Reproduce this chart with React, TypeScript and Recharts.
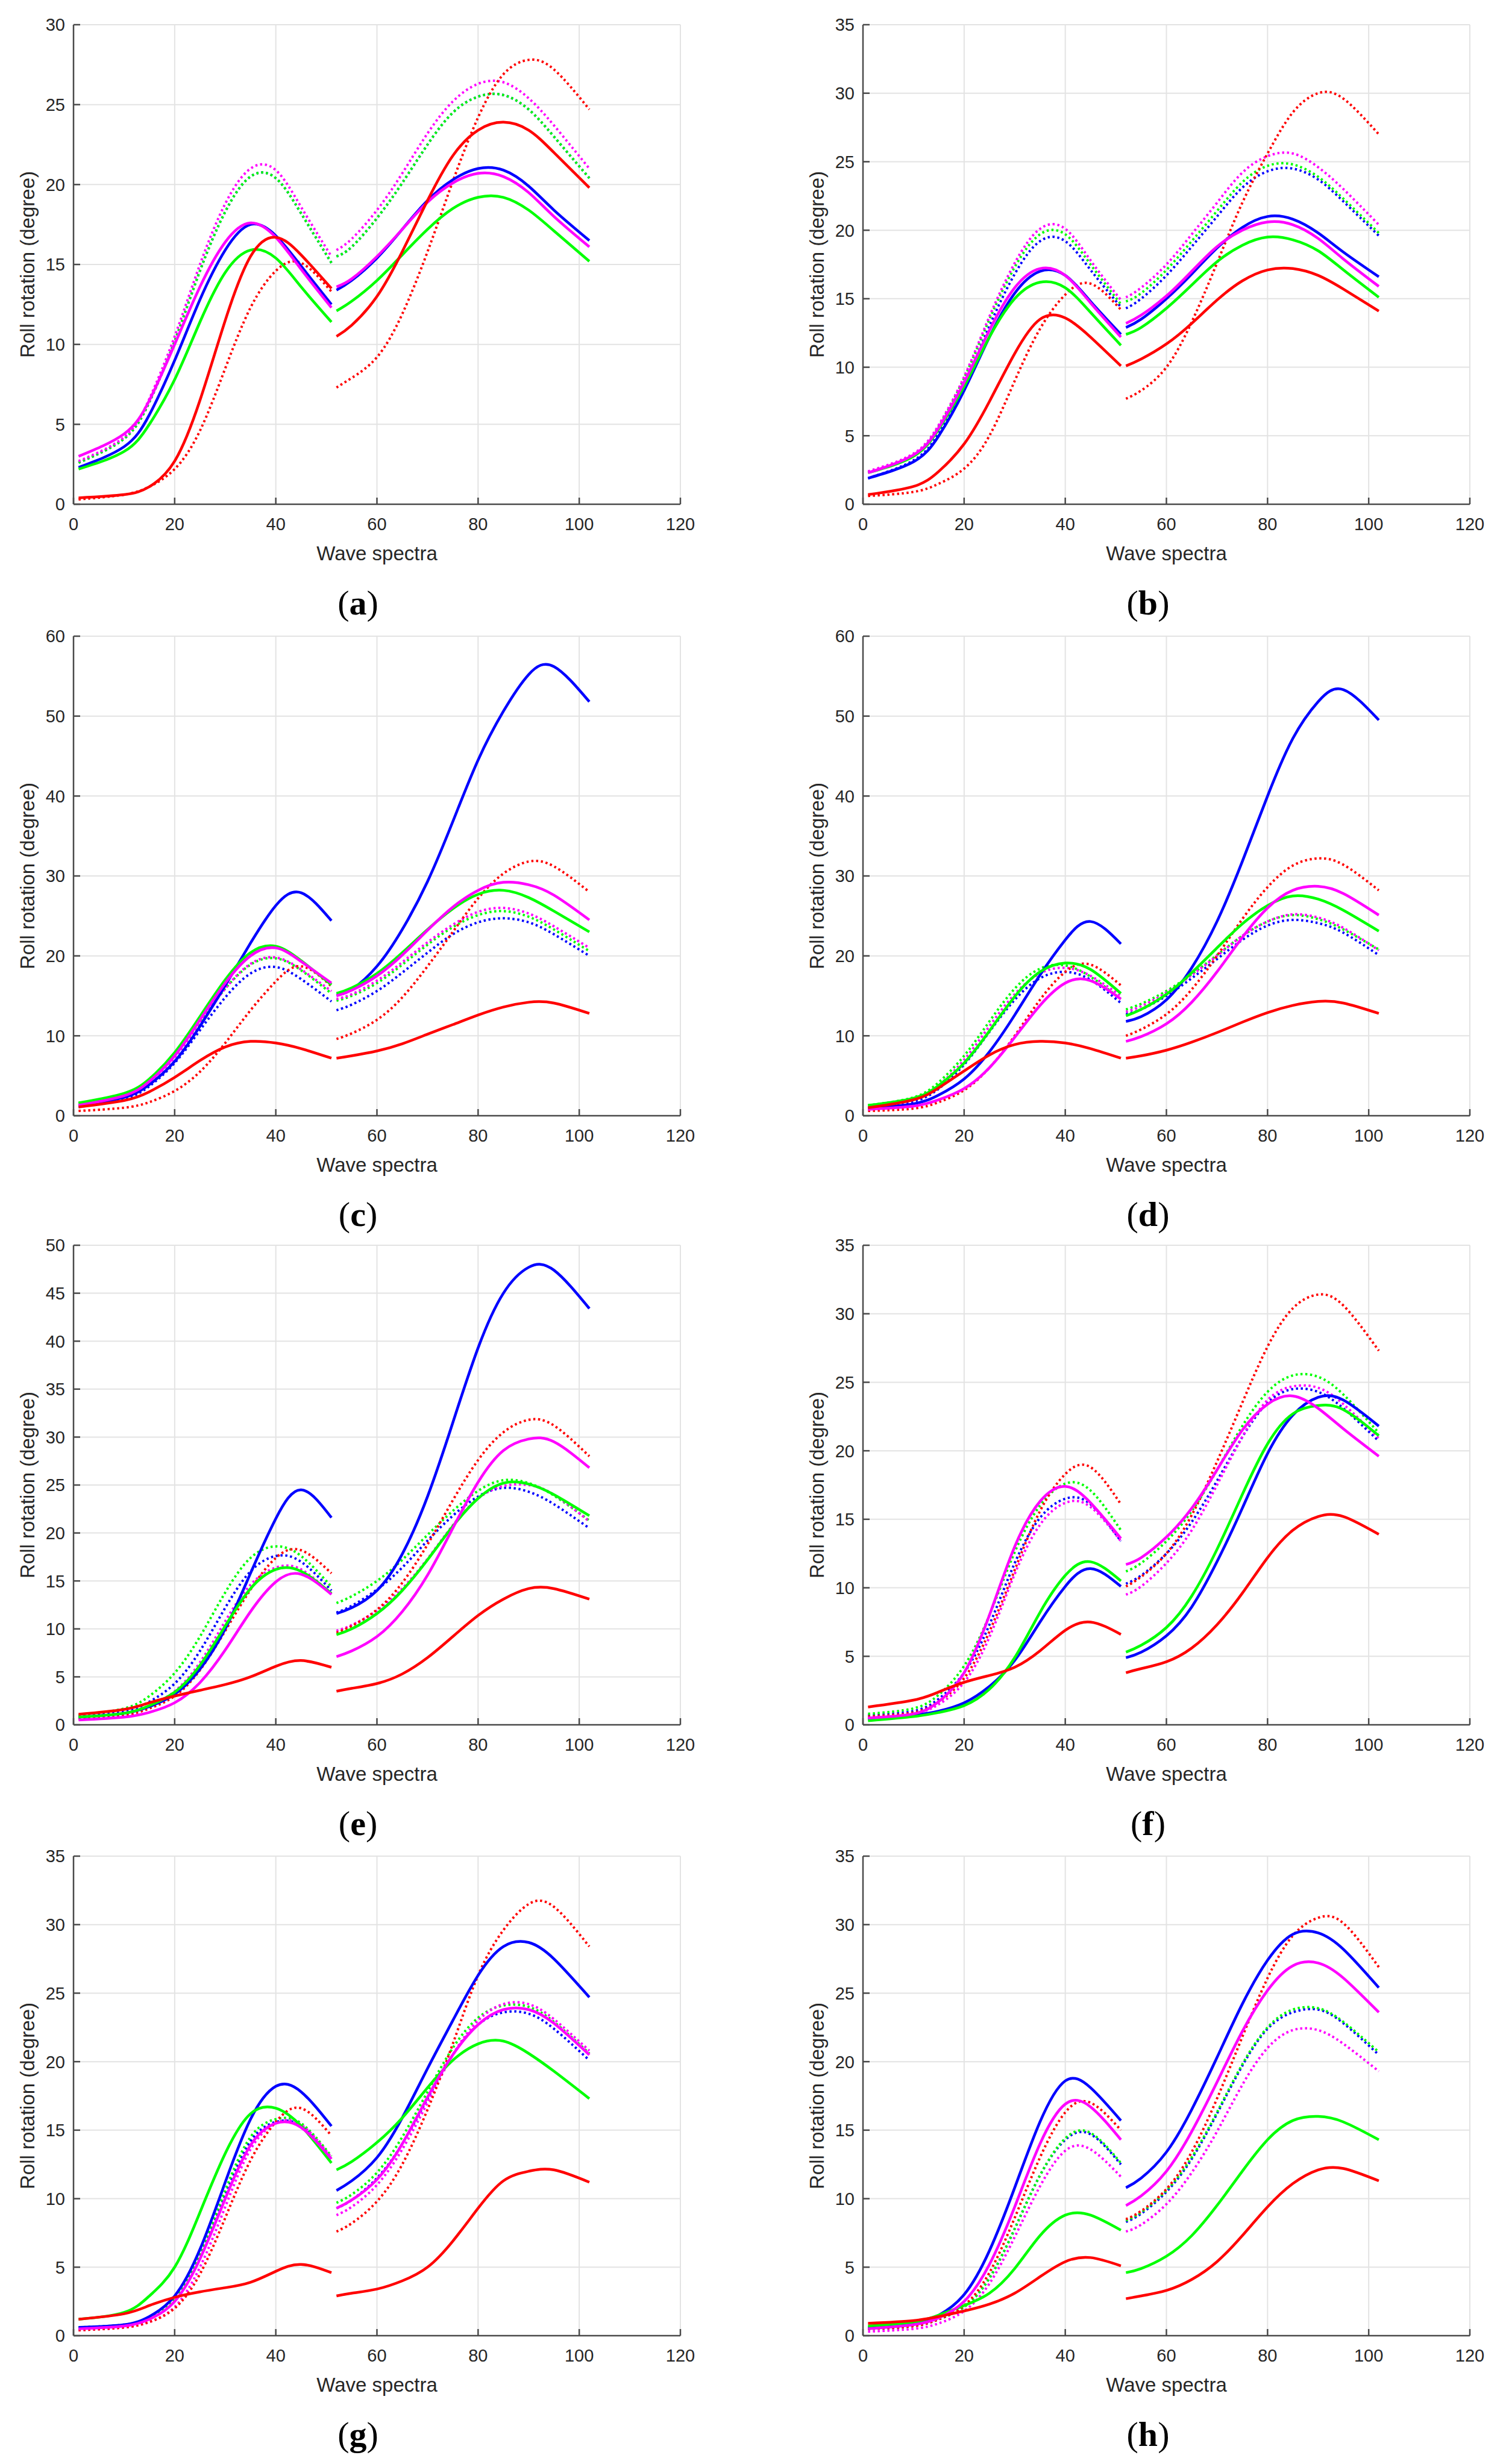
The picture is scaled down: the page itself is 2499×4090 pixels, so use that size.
import React from "react"
import { LineChart, Line, XAxis, YAxis, CartesianGrid } from "recharts"

// sample positions along the wave-spectra index (two groups of spectra)
const X_SEG1 = [1, 10, 15, 20, 25, 30, 35, 40, 45, 51]
const X_SEG2 = [52, 55, 60, 65, 70, 75, 80, 85, 90, 95, 102]
const X_TICKS = [0, 20, 40, 60, 80, 100, 120]

const Y_TICKS_A = [0, 5, 10, 15, 20, 25, 30]
const Y_TICKS_B = [0, 5, 10, 15, 20, 25, 30, 35]
const Y_TICKS_C = [0, 10, 20, 30, 40, 50, 60]
const Y_TICKS_D = [0, 10, 20, 30, 40, 50, 60]
const Y_TICKS_E = [0, 5, 10, 15, 20, 25, 30, 35, 40, 45, 50]
const Y_TICKS_F = [0, 5, 10, 15, 20, 25, 30, 35]
const Y_TICKS_G = [0, 5, 10, 15, 20, 25, 30, 35]
const Y_TICKS_H = [0, 5, 10, 15, 20, 25, 30, 35]

const PANEL_LETTERS = ["a", "b", "c", "d", "e", "f", "g", "h"]

// (a)
const A_BLUE = [2.3, 3.6, 5.6, 9.0, 12.8, 15.9, 17.5, 16.8, 14.9, 12.5, 13.4, 14.0, 15.4, 17.2, 19.0, 20.3, 21.0, 20.9, 19.9, 18.4, 16.5]
const A_MAGENTA = [3.0, 4.4, 6.5, 10.0, 13.6, 16.4, 17.6, 16.7, 14.7, 12.3, 13.6, 14.1, 15.5, 17.2, 18.9, 20.1, 20.7, 20.5, 19.5, 18.0, 16.1]
const A_GREEN = [2.2, 3.3, 5.0, 7.8, 11.4, 14.5, 15.9, 15.4, 13.6, 11.4, 12.1, 12.7, 14.0, 15.6, 17.2, 18.5, 19.2, 19.2, 18.4, 17.1, 15.2]
const A_RED = [0.4, 0.6, 1.1, 2.7, 6.5, 11.5, 15.5, 16.7, 15.6, 13.5, 10.5, 11.2, 13.0, 15.8, 19.0, 21.8, 23.4, 23.9, 23.4, 22.0, 19.8]
const A_BLUE_DOT = [2.6, 4.1, 6.4, 10.2, 14.6, 18.3, 20.5, 20.4, 18.2, 15.1, 15.5, 16.1, 17.9, 20.1, 22.5, 24.5, 25.5, 25.6, 24.7, 23.0, 20.4]
const A_MAGENTA_DOT = [2.7, 4.2, 6.6, 10.5, 15.0, 18.8, 21.0, 20.9, 18.6, 15.5, 15.9, 16.6, 18.4, 20.7, 23.2, 25.2, 26.3, 26.4, 25.4, 23.7, 21.0]
const A_GREEN_DOT = [2.6, 4.1, 6.4, 10.2, 14.6, 18.3, 20.5, 20.4, 18.2, 15.1, 15.5, 16.1, 17.9, 20.1, 22.5, 24.5, 25.5, 25.6, 24.7, 23.0, 20.4]
const A_RED_DOT = [0.3, 0.6, 1.1, 2.2, 4.6, 8.5, 12.3, 14.6, 15.1, 13.3, 7.3, 7.9, 9.2, 11.9, 15.8, 20.2, 24.2, 26.9, 27.8, 27.2, 24.7]

// (b)
const B_BLUE = [1.9, 3.1, 5.0, 8.3, 12.2, 15.4, 17.0, 16.7, 14.8, 12.4, 12.9, 13.5, 15.0, 16.8, 18.7, 20.2, 21.0, 20.8, 19.8, 18.4, 16.6]
const B_MAGENTA = [2.3, 3.6, 5.6, 8.9, 12.7, 15.8, 17.2, 16.7, 14.7, 12.2, 13.2, 13.8, 15.2, 17.0, 18.8, 20.0, 20.6, 20.4, 19.4, 17.9, 15.9]
const B_GREEN = [2.3, 3.5, 5.5, 8.6, 12.2, 15.0, 16.2, 15.8, 14.0, 11.6, 12.4, 12.9, 14.3, 16.0, 17.7, 18.9, 19.5, 19.3, 18.5, 17.1, 15.1]
const B_RED = [0.7, 1.3, 2.4, 4.4, 7.5, 11.0, 13.5, 13.6, 12.2, 10.1, 10.1, 10.6, 11.7, 13.2, 14.9, 16.3, 17.1, 17.2, 16.7, 15.7, 14.1]
const B_BLUE_DOT = [1.9, 3.2, 5.2, 8.7, 13.0, 16.8, 19.2, 19.2, 17.1, 14.4, 14.3, 15.0, 16.7, 18.8, 21.0, 23.1, 24.3, 24.5, 23.7, 22.1, 19.6]
const B_MAGENTA_DOT = [2.4, 3.7, 5.8, 9.3, 13.7, 17.6, 20.1, 20.1, 17.8, 14.9, 15.1, 15.8, 17.5, 19.7, 22.0, 24.2, 25.4, 25.6, 24.6, 23.0, 20.4]
const B_GREEN_DOT = [2.3, 3.6, 5.7, 9.2, 13.5, 17.3, 19.7, 19.7, 17.5, 14.6, 14.8, 15.4, 17.1, 19.2, 21.4, 23.5, 24.7, 24.8, 23.9, 22.3, 19.8]
const B_RED_DOT = [0.6, 0.9, 1.5, 2.6, 5.0, 9.0, 12.8, 15.3, 16.1, 14.2, 7.7, 8.3, 10.0, 13.3, 17.6, 22.0, 25.6, 28.6, 30.0, 29.6, 27.0]

// (c)
const C_BLUE = [1.3, 2.3, 3.9, 6.8, 11.2, 16.3, 21.6, 26.3, 27.9, 24.4, 15.1, 15.8, 18.7, 23.3, 29.3, 36.8, 44.5, 50.6, 55.2, 56.2, 51.8]
const C_MAGENTA = [1.3, 2.5, 4.3, 7.5, 12.0, 16.6, 20.0, 21.0, 19.3, 16.6, 15.0, 15.7, 17.5, 20.1, 23.2, 26.1, 28.2, 29.2, 28.9, 27.6, 24.5]
const C_GREEN = [1.6, 2.8, 4.6, 7.9, 12.4, 17.0, 20.4, 21.2, 19.4, 16.4, 15.3, 16.0, 17.8, 20.4, 23.3, 25.9, 27.7, 28.2, 27.3, 25.6, 23.0]
const C_RED = [1.1, 1.9, 3.0, 4.8, 6.9, 8.6, 9.3, 9.1, 8.4, 7.2, 7.2, 7.5, 8.1, 9.0, 10.2, 11.4, 12.6, 13.6, 14.2, 14.1, 12.8]
const C_BLUE_DOT = [1.1, 2.1, 3.7, 6.6, 10.7, 14.8, 17.8, 18.6, 17.1, 14.3, 13.2, 13.9, 15.6, 17.9, 20.4, 22.7, 24.2, 24.7, 24.2, 22.7, 20.0]
const C_MAGENTA_DOT = [1.4, 2.5, 4.2, 7.3, 11.6, 15.9, 19.0, 19.8, 18.3, 15.6, 14.6, 15.2, 16.9, 19.2, 21.7, 23.9, 25.5, 26.0, 25.3, 23.7, 21.0]
const C_GREEN_DOT = [1.6, 2.7, 4.4, 7.5, 11.8, 15.9, 18.9, 19.7, 18.2, 15.3, 14.4, 15.0, 16.6, 18.9, 21.4, 23.6, 25.1, 25.6, 24.9, 23.3, 20.6]
const C_RED_DOT = [0.6, 1.0, 1.7, 3.1, 5.5, 9.1, 13.2, 16.8, 18.7, 16.2, 9.6, 10.3, 12.0, 14.8, 18.7, 23.0, 27.2, 30.3, 31.8, 31.2, 28.0]

// (d)
const D_BLUE = [0.9, 1.5, 2.6, 4.6, 8.0, 12.6, 17.6, 22.0, 24.3, 21.5, 11.8, 12.4, 14.5, 18.5, 24.3, 31.8, 40.0, 47.2, 51.8, 53.3, 49.5]
const D_MAGENTA = [0.8, 1.2, 2.0, 3.4, 6.0, 9.8, 13.8, 16.6, 16.9, 14.6, 9.3, 9.9, 11.5, 14.2, 18.0, 22.3, 26.0, 28.2, 28.7, 27.8, 25.1]
const D_GREEN = [1.3, 2.2, 3.8, 6.6, 10.6, 14.9, 18.0, 19.1, 18.3, 15.3, 12.5, 13.3, 15.2, 17.9, 21.0, 24.0, 26.3, 27.5, 27.1, 25.7, 23.1]
const D_RED = [1.0, 2.0, 3.5, 5.6, 7.6, 8.9, 9.3, 9.1, 8.4, 7.2, 7.2, 7.5, 8.2, 9.2, 10.4, 11.7, 12.9, 13.8, 14.3, 14.1, 12.8]
const D_BLUE_DOT = [1.0, 1.8, 3.4, 6.4, 10.5, 14.5, 17.2, 18.0, 17.0, 14.1, 12.7, 13.3, 15.0, 17.2, 19.6, 22.0, 23.8, 24.5, 24.1, 22.9, 20.1]
const D_MAGENTA_DOT = [1.0, 2.0, 3.8, 7.0, 11.2, 15.2, 17.8, 18.5, 17.5, 15.0, 13.0, 13.7, 15.4, 17.6, 20.0, 22.5, 24.3, 25.2, 24.8, 23.5, 20.7]
const D_GREEN_DOT = [1.3, 2.3, 4.2, 7.5, 11.8, 15.9, 18.4, 18.8, 17.4, 14.6, 13.3, 14.0, 15.6, 17.7, 20.1, 22.5, 24.3, 25.1, 24.6, 23.3, 20.8]
const D_RED_DOT = [0.6, 0.9, 1.7, 3.2, 6.0, 10.0, 14.5, 18.0, 18.9, 16.3, 10.0, 10.8, 12.7, 15.8, 20.0, 24.6, 28.6, 31.3, 32.2, 31.4, 28.2]

// (e)
const E_BLUE = [0.8, 1.2, 1.9, 3.2, 5.8, 10.0, 15.8, 21.5, 24.5, 21.6, 11.6, 12.2, 14.0, 17.8, 23.8, 31.5, 39.3, 45.0, 47.7, 47.4, 43.4]
const E_MAGENTA = [0.5, 0.8, 1.3, 2.3, 4.4, 7.8, 11.8, 14.9, 15.7, 13.6, 7.1, 7.7, 9.2, 11.8, 15.6, 20.5, 25.3, 28.6, 29.8, 29.5, 26.8]
const E_GREEN = [0.8, 1.2, 2.0, 3.4, 6.2, 10.3, 14.2, 16.2, 16.0, 13.7, 9.4, 10.0, 11.6, 14.0, 17.2, 20.7, 23.6, 25.2, 25.1, 24.0, 21.8]
const E_RED = [1.1, 1.6, 2.3, 3.0, 3.6, 4.2, 5.0, 6.1, 6.7, 6.0, 3.5, 3.8, 4.3, 5.3, 7.0, 9.2, 11.4, 13.1, 14.2, 14.2, 13.1]
const E_BLUE_DOT = [0.9, 1.4, 2.4, 4.3, 7.7, 12.2, 16.0, 17.6, 17.0, 14.0, 11.7, 12.4, 14.1, 16.4, 19.2, 21.8, 23.8, 24.7, 24.3, 23.0, 20.5]
const E_MAGENTA_DOT = [0.7, 1.1, 1.9, 3.5, 6.5, 10.8, 14.6, 16.4, 16.2, 13.6, 9.8, 10.4, 11.9, 14.2, 17.3, 20.8, 23.6, 24.9, 25.0, 24.0, 21.2]
const E_GREEN_DOT = [1.0, 1.7, 3.0, 5.4, 9.2, 13.8, 17.4, 18.6, 17.6, 14.4, 12.7, 13.4, 15.0, 17.2, 19.8, 22.3, 24.4, 25.5, 25.2, 23.9, 21.3]
const E_RED_DOT = [0.6, 1.0, 1.7, 3.0, 5.7, 9.8, 14.1, 17.4, 18.2, 15.8, 9.6, 10.3, 12.0, 14.8, 18.8, 23.4, 27.6, 30.5, 31.8, 31.2, 28.0]

// (f)
const F_BLUE = [0.4, 0.7, 1.0, 1.6, 2.8, 4.7, 7.5, 10.1, 11.4, 10.1, 4.9, 5.3, 6.5, 8.6, 11.9, 15.8, 19.8, 22.6, 23.9, 23.7, 21.8]
const F_MAGENTA = [0.5, 0.8, 1.7, 3.8, 8.0, 13.0, 16.3, 17.4, 16.2, 13.6, 11.7, 12.2, 13.7, 15.8, 18.6, 21.5, 23.4, 24.0, 23.1, 21.6, 19.6]
const F_GREEN = [0.3, 0.6, 0.9, 1.4, 2.6, 4.9, 8.2, 10.9, 11.9, 10.5, 5.3, 5.8, 7.1, 9.4, 12.8, 16.8, 20.5, 22.7, 23.3, 23.0, 21.1]
const F_RED = [1.3, 1.8, 2.4, 3.1, 3.6, 4.2, 5.4, 6.9, 7.5, 6.6, 3.8, 4.1, 4.6, 5.6, 7.3, 9.6, 12.2, 14.2, 15.2, 15.2, 13.9]
const F_BLUE_DOT = [0.7, 1.0, 1.9, 3.8, 7.3, 11.8, 15.1, 16.5, 16.1, 13.4, 10.3, 10.9, 12.5, 14.8, 17.8, 21.0, 23.5, 24.5, 24.3, 23.1, 20.7]
const F_MAGENTA_DOT = [0.5, 0.8, 1.5, 3.1, 6.4, 11.0, 14.6, 16.2, 15.9, 13.4, 9.5, 10.1, 11.8, 14.2, 17.5, 21.0, 23.7, 24.7, 24.6, 23.4, 20.9]
const F_GREEN_DOT = [0.8, 1.2, 2.2, 4.3, 8.0, 12.6, 16.0, 17.6, 17.1, 14.2, 11.2, 11.8, 13.4, 15.6, 18.6, 21.8, 24.3, 25.5, 25.4, 24.1, 21.3]
const F_RED_DOT = [0.6, 0.9, 1.7, 3.4, 6.8, 11.3, 15.6, 18.3, 18.8, 16.1, 10.1, 10.8, 12.5, 15.3, 19.2, 23.5, 27.6, 30.4, 31.4, 30.6, 27.3]

// (g)
const G_BLUE = [0.6, 0.8, 1.4, 2.9, 6.3, 11.2, 15.8, 18.2, 17.8, 15.3, 10.6, 11.3, 13.0, 15.9, 19.5, 23.0, 26.3, 28.4, 28.7, 27.5, 24.7]
const G_MAGENTA = [0.5, 0.7, 1.2, 2.5, 5.6, 10.0, 13.9, 15.5, 15.2, 12.9, 9.3, 9.9, 11.4, 14.0, 17.4, 20.5, 22.7, 23.8, 23.8, 22.8, 20.5]
const G_GREEN = [1.2, 1.7, 2.9, 5.0, 9.0, 13.3, 16.2, 16.6, 15.3, 12.6, 12.1, 12.7, 14.1, 15.9, 18.1, 20.1, 21.3, 21.5, 20.6, 19.3, 17.3]
const G_RED = [1.2, 1.6, 2.2, 2.8, 3.2, 3.5, 3.9, 4.7, 5.2, 4.6, 2.9, 3.1, 3.4, 4.0, 5.0, 6.9, 9.3, 11.3, 12.0, 12.1, 11.2]
const G_BLUE_DOT = [0.6, 0.8, 1.3, 2.6, 5.8, 10.3, 14.2, 15.6, 15.3, 12.9, 9.3, 9.9, 11.5, 14.0, 17.3, 20.5, 22.7, 23.6, 23.5, 22.4, 20.1]
const G_MAGENTA_DOT = [0.4, 0.6, 1.0, 2.1, 5.0, 9.4, 13.6, 15.5, 15.4, 13.0, 8.8, 9.4, 11.0, 13.6, 17.0, 20.5, 23.0, 24.2, 24.2, 23.1, 20.8]
const G_GREEN_DOT = [0.6, 0.8, 1.3, 2.7, 6.0, 10.6, 14.5, 15.8, 15.5, 13.1, 9.7, 10.3, 11.9, 14.5, 17.8, 21.0, 23.2, 24.1, 24.0, 22.9, 20.6]
const G_RED_DOT = [0.4, 0.6, 1.0, 2.0, 4.5, 8.6, 12.8, 15.6, 16.6, 14.6, 7.6, 8.2, 9.8, 12.5, 16.5, 21.3, 26.3, 29.6, 31.5, 31.3, 28.4]

// (h)
const H_BLUE = [0.6, 0.9, 1.5, 3.0, 6.2, 10.8, 15.6, 18.6, 18.1, 15.7, 10.8, 11.5, 13.4, 16.5, 20.3, 24.2, 27.4, 29.3, 29.4, 28.2, 25.4]
const H_MAGENTA = [0.5, 0.8, 1.3, 2.5, 5.2, 9.4, 14.0, 16.9, 16.7, 14.3, 9.5, 10.2, 12.0, 14.9, 18.5, 22.2, 25.2, 27.0, 27.2, 26.1, 23.6]
const H_GREEN = [0.7, 1.0, 1.5, 2.2, 3.1, 4.9, 7.3, 8.8, 8.8, 7.7, 4.6, 4.9, 5.8, 7.3, 9.5, 12.0, 14.3, 15.7, 16.0, 15.6, 14.3]
const H_RED = [0.9, 1.1, 1.4, 1.8, 2.3, 3.1, 4.3, 5.4, 5.7, 5.1, 2.7, 2.9, 3.3, 4.1, 5.4, 7.3, 9.4, 11.1, 12.1, 12.2, 11.3]
const H_BLUE_DOT = [0.5, 0.7, 1.2, 2.1, 4.2, 7.8, 11.7, 14.3, 14.7, 12.5, 8.3, 8.9, 10.5, 12.9, 16.2, 19.7, 22.4, 23.6, 23.8, 22.8, 20.5]
const H_MAGENTA_DOT = [0.3, 0.5, 0.9, 1.8, 3.8, 7.2, 10.9, 13.5, 13.6, 11.6, 7.6, 8.1, 9.6, 11.9, 14.9, 18.3, 21.0, 22.3, 22.3, 21.3, 19.3]
const H_GREEN_DOT = [0.5, 0.7, 1.2, 2.1, 4.2, 7.8, 11.7, 14.4, 14.8, 12.6, 8.4, 9.0, 10.6, 13.0, 16.3, 19.8, 22.5, 23.8, 23.9, 22.9, 20.7]
const H_RED_DOT = [0.5, 0.7, 1.2, 2.2, 4.6, 8.6, 13.0, 16.3, 17.0, 15.0, 8.5, 9.1, 10.7, 13.4, 17.3, 21.8, 26.1, 29.2, 30.5, 30.1, 26.9]

const BLUE = "#0000ff"
const MAGENTA = "#ff00ff"
const GREEN = "#00ff00"
const RED = "#ff0000"
const AXIS = "#4a4a4a"
const TEXT = "#262626"
const GRID = "#e3e3e3"

// draw order: dotted first, solid on top
const SERIES = [
  { key: "blueDot", color: BLUE, dotted: true },
  { key: "greenDot", color: GREEN, dotted: true },
  { key: "magentaDot", color: MAGENTA, dotted: true },
  { key: "redDot", color: RED, dotted: true },
  { key: "blue", color: BLUE, dotted: false },
  { key: "green", color: GREEN, dotted: false },
  { key: "magenta", color: MAGENTA, dotted: false },
  { key: "red", color: RED, dotted: false },
]

const PANELS = [
  { ticks: Y_TICKS_A, blue: A_BLUE, magenta: A_MAGENTA, green: A_GREEN, red: A_RED, blueDot: A_BLUE_DOT, magentaDot: A_MAGENTA_DOT, greenDot: A_GREEN_DOT, redDot: A_RED_DOT },
  { ticks: Y_TICKS_B, blue: B_BLUE, magenta: B_MAGENTA, green: B_GREEN, red: B_RED, blueDot: B_BLUE_DOT, magentaDot: B_MAGENTA_DOT, greenDot: B_GREEN_DOT, redDot: B_RED_DOT },
  { ticks: Y_TICKS_C, blue: C_BLUE, magenta: C_MAGENTA, green: C_GREEN, red: C_RED, blueDot: C_BLUE_DOT, magentaDot: C_MAGENTA_DOT, greenDot: C_GREEN_DOT, redDot: C_RED_DOT },
  { ticks: Y_TICKS_D, blue: D_BLUE, magenta: D_MAGENTA, green: D_GREEN, red: D_RED, blueDot: D_BLUE_DOT, magentaDot: D_MAGENTA_DOT, greenDot: D_GREEN_DOT, redDot: D_RED_DOT },
  { ticks: Y_TICKS_E, blue: E_BLUE, magenta: E_MAGENTA, green: E_GREEN, red: E_RED, blueDot: E_BLUE_DOT, magentaDot: E_MAGENTA_DOT, greenDot: E_GREEN_DOT, redDot: E_RED_DOT },
  { ticks: Y_TICKS_F, blue: F_BLUE, magenta: F_MAGENTA, green: F_GREEN, red: F_RED, blueDot: F_BLUE_DOT, magentaDot: F_MAGENTA_DOT, greenDot: F_GREEN_DOT, redDot: F_RED_DOT },
  { ticks: Y_TICKS_G, blue: G_BLUE, magenta: G_MAGENTA, green: G_GREEN, red: G_RED, blueDot: G_BLUE_DOT, magentaDot: G_MAGENTA_DOT, greenDot: G_GREEN_DOT, redDot: G_RED_DOT },
  { ticks: Y_TICKS_H, blue: H_BLUE, magenta: H_MAGENTA, green: H_GREEN, red: H_RED, blueDot: H_BLUE_DOT, magentaDot: H_MAGENTA_DOT, greenDot: H_GREEN_DOT, redDot: H_RED_DOT },
]

const PLOT_TOPS = [41, 1056, 2067, 3081]
const PLOT_H = 796
const COLS = [
  { block: 0, width: 1250, plotLeft: 122, plotRight: 1129, letterX: 594 },
  { block: 1250, width: 1249, plotLeft: 1432, plotRight: 2439, letterX: 1905 },
]
const PAD_TOP = 20
const X_AXIS_H = 92

function buildRows(panel: any) {
  const rows: any[] = []
  const pick = (i: number, x: number) => {
    const r: any = { x }
    SERIES.forEach((s) => { r[s.key] = panel[s.key][i] })
    return r
  }
  X_SEG1.forEach((x, i) => rows.push(pick(i, x)))
  // gap between the two groups of spectra
  const gap: any = { x: 51.5 }
  SERIES.forEach((s) => { gap[s.key] = null })
  rows.push(gap)
  X_SEG2.forEach((x, i) => rows.push(pick(i + X_SEG1.length, x)))
  return rows
}

const tickFont = { fontFamily: "'Liberation Sans', Arial, sans-serif", fontSize: 29, fill: TEXT }

function XTick(props: any) {
  const { x, y, payload } = props
  return (
    <g>
      <line x1={x} x2={x} y1={y} y2={y - 11} stroke={AXIS} strokeWidth={2.5} />
      <text x={x} y={y + 22} dy="0.71em" textAnchor="middle" {...tickFont}>{payload.value}</text>
    </g>
  )
}

function YTick(props: any) {
  const { x, y, payload } = props
  return (
    <g>
      <line x1={x} x2={x + 11} y1={y} y2={y} stroke={AXIS} strokeWidth={2.5} />
      <text x={x - 14} y={y} dy="0.36em" textAnchor="end" {...tickFont}>{payload.value}</text>
    </g>
  )
}

function Panel({ index }: { index: number }) {
  const panel = PANELS[index]
  const col = COLS[index % 2]
  const top = PLOT_TOPS[Math.floor(index / 2)]
  const rows = buildRows(panel)
  const ticks = panel.ticks
  const yMax = ticks[ticks.length - 1]
  const labelFont = { fontFamily: "'Liberation Sans', Arial, sans-serif", fontSize: 33, color: TEXT, whiteSpace: "nowrap" as const, lineHeight: 1 }

  return (
    <>
      <div style={{ position: "absolute", left: col.block, top: top - PAD_TOP }}>
        <LineChart
          width={col.width}
          height={PAD_TOP + PLOT_H + X_AXIS_H}
          data={rows}
          margin={{ top: PAD_TOP, right: col.block + col.width - col.plotRight, bottom: 0, left: 0 }}
        >
          <CartesianGrid stroke={GRID} strokeWidth={2} />
          <XAxis
            dataKey="x"
            type="number"
            domain={[0, 120]}
            ticks={X_TICKS}
            height={X_AXIS_H}
            tickSize={0}
            tickMargin={0}
            tickLine={false}
            axisLine={{ stroke: AXIS, strokeWidth: 2.5 }}
            tick={XTick}
            interval={0}
          />
          <YAxis
            type="number"
            domain={[0, yMax]}
            ticks={ticks}
            width={col.plotLeft - col.block}
            tickSize={0}
            tickMargin={0}
            tickLine={false}
            axisLine={{ stroke: AXIS, strokeWidth: 2.5 }}
            tick={YTick}
            interval={0}
          />
          {SERIES.map((s) => (
            <Line
              key={s.key}
              dataKey={s.key}
              type="natural"
              stroke={s.color}
              strokeWidth={s.dotted ? 4 : 4.5}
              strokeDasharray={s.dotted ? "3.5 4.5" : undefined}
              dot={false}
              activeDot={false}
              isAnimationActive={false}
            />
          ))}
        </LineChart>
      </div>
      <div
        style={{
          ...labelFont,
          position: "absolute",
          left: col.plotLeft - 77,
          top: top + PLOT_H / 2,
          transform: "translate(-50%, -50%) rotate(-90deg)",
        }}
      >
        Roll rotation (degree)
      </div>
      <div
        style={{
          ...labelFont,
          position: "absolute",
          left: (col.plotLeft + col.plotRight) / 2,
          top: top + PLOT_H + 81,
          transform: "translate(-50%, -50%)",
        }}
      >
        Wave spectra
      </div>
      <div
        style={{
          position: "absolute",
          left: col.letterX,
          top: top + 960,
          transform: "translate(-50%, -50%)",
          fontFamily: "'Liberation Serif', 'Times New Roman', serif",
          fontSize: 58,
          lineHeight: 1,
          color: "#000",
          whiteSpace: "nowrap",
        }}
      >
        (<b>{PANEL_LETTERS[index]}</b>)
      </div>
    </>
  )
}

export default function App() {
  return (
    <div style={{ position: "absolute", left: 0, top: 0, width: 2499, height: 4090, background: "#fff", overflow: "hidden" }}>
      {PANELS.map((_, i) => (
        <Panel key={i} index={i} />
      ))}
    </div>
  )
}
